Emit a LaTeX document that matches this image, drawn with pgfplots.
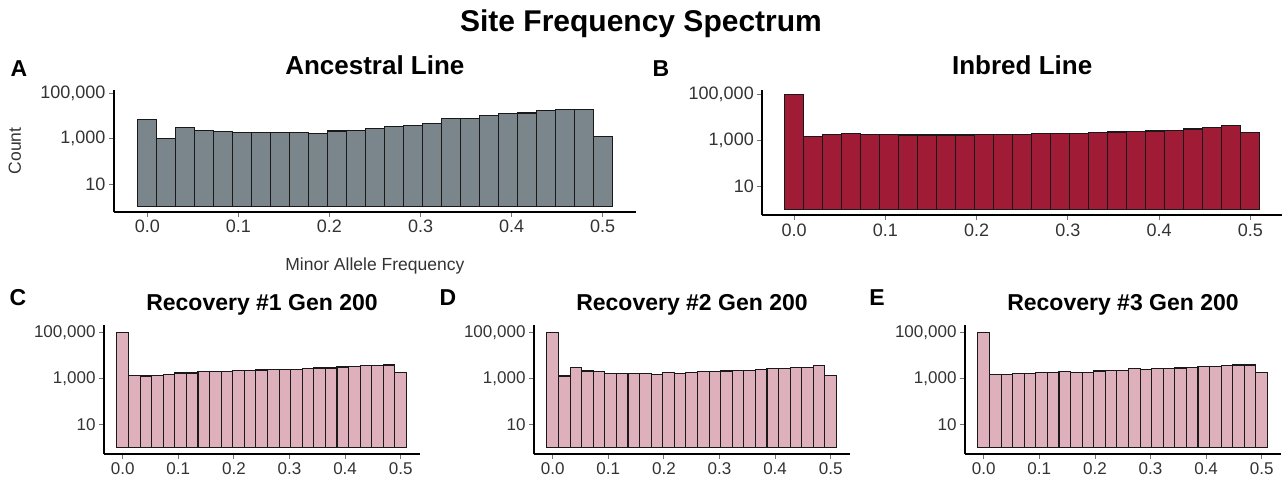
\documentclass[border=0pt]{standalone}
\usepackage{fontspec}
\setmainfont{Liberation Sans}
\usepackage{pgfplots}
\pgfplotsset{compat=1.18}
\usepackage{pgfplotstable}

\definecolor{grayfill}{HTML}{7B868C}
\definecolor{redfill}{HTML}{A01B35}
\definecolor{pinkfill}{HTML}{DDB0BC}
\definecolor{ticktext}{HTML}{333333}

\pgfplotstableread{
x        A      B      C      D      E
0        7079   98000  98000  98000  98000
0.020833 1000   1549   1288   1259   1445
0.041667 3020   1905   1259   2884   1445
0.0625   2344   1995   1288   2089   1549
0.083333 2138   1820   1445   1905   1660
0.104167 1905   1820   1698   1549   1778
0.125    1905   1778   1698   1549   1738
0.145833 1905   1778   1905   1585   1995
0.166667 1905   1778   1995   1549   1820
0.1875   1738   1778   1995   1445   1778
0.208333 2188   1905   2239   1778   2089
0.229167 2344   1905   2239   1585   2138
0.25     2884   1905   2291   1820   2239
0.270833 3311   1995   2399   1950   2570
0.291667 3981   1995   2455   1950   2455
0.3125   4677   2138   2512   2089   2630
0.333333 7586   2239   2570   2138   2692
0.354167 7586   2399   2818   2239   2818
0.375    10233  2455   2818   2455   3020
0.395833 12589  2630   3090   2692   3236
0.416667 13490  2818   3236   2692   3236
0.4375   17378  3236   3548   3020   3548
0.458333 19055  3800   3715   3020   3802
0.479167 18621  4571   3802   3467   3802
0.5      1288   2344   1862   1318   1862
}\sfs

\pgfplotsset{
  /pgfplots/sfsbase/.style={
    /pgfplots/scale only axis,
    /pgfplots/axis x line*=bottom,
    /pgfplots/axis y line*=left,
    /pgfplots/axis line style={line width=1.7pt, black, -},
    /pgfplots/xtick={0,0.1,0.2,0.3,0.4,0.5},
    /pgfplots/xticklabels={0.0,0.1,0.2,0.3,0.4,0.5},
    /pgfplots/ytick={10,1000,100000},
    /pgfplots/yticklabels={10,{1,000},{100,000}},
    /pgfplots/minor tick num=0,
    /pgfplots/tick align=outside,
    /pgfplots/major tick length=5pt,
    /pgfplots/tick style={line width=0.8pt, color=black!55},
    /pgfplots/enlargelimits=false,
    /pgfplots/clip=false,
  },
}

\begin{document}
\begin{tikzpicture}
\path[use as bounding box] (0,0) rectangle (1283pt,-483pt);

\node[font=\bfseries\fontsize{30}{32}\selectfont, anchor=base] at (641pt,-31pt) {Site Frequency Spectrum};

% Panel A
\begin{axis}[sfsbase, ymode=log, ybar, bar width=0.0208333, bar shift=0pt,
  at={(114pt,-211.7pt)}, anchor=south west,
  width=521.7pt, height=121.7pt, xmin=-0.0366, xmax=0.5362, ymin=0.608, ymax=139600,
  tick label style={color=ticktext, font=\fontsize{18}{20}\selectfont},
  title={Ancestral Line},
  title style={font=\bfseries\fontsize{26}{28}\selectfont, at={(axis description cs:0.5,1)}, anchor=base, yshift=10pt},
  xlabel={Minor Allele Frequency},
  xlabel style={font=\fontsize{17.5}{19}\selectfont, color=ticktext, at={(axis description cs:0.5,-0.48)}, anchor=base},
  ylabel={Count},
  ylabel style={font=\fontsize{17.5}{19}\selectfont, color=ticktext, at={(axis description cs:-0.19,0.5)}, anchor=center},
]
\addplot[draw=black!90, line width=1.1pt, fill=grayfill] table[x=x, y=A] {\sfs};
\end{axis}

% Panel B
\begin{axis}[sfsbase, ymode=log, ybar, bar width=0.0208333, bar shift=0pt,
  at={(762.3pt,-215pt)}, anchor=south west,
  width=519.7pt, height=125pt, xmin=-0.035, xmax=0.5348, ymin=0.589, ymax=160000,
  tick label style={color=ticktext, font=\fontsize{18}{20}\selectfont},
  title={Inbred Line},
  title style={font=\bfseries\fontsize{26}{28}\selectfont, at={(axis description cs:0.5,1)}, anchor=base, yshift=10pt},
]
\addplot[draw=black!90, line width=1.1pt, fill=redfill] table[x=x, y=B] {\sfs};
\end{axis}

% Panel C
\begin{axis}[sfsbase, ymode=log, ybar, bar width=0.0208333, bar shift=0pt,
  at={(104pt,-454pt)}, anchor=south west,
  width=316pt, height=129pt, xmin=-0.0336, xmax=0.5347, ymin=0.513, ymax=207500,
  tick label style={color=ticktext, font=\fontsize{17}{19}\selectfont},
  title={Recovery \#1 Gen 200},
  title style={font=\bfseries\fontsize{23}{25}\selectfont, at={(axis description cs:0.5,1)}, anchor=base, yshift=9pt},
]
\addplot[draw=black!90, line width=1.1pt, fill=pinkfill] table[x=x, y=C] {\sfs};
\end{axis}

% Panel D
\begin{axis}[sfsbase, ymode=log, ybar, bar width=0.0208333, bar shift=0pt,
  at={(534pt,-454pt)}, anchor=south west,
  width=316pt, height=129pt, xmin=-0.0336, xmax=0.5347, ymin=0.513, ymax=207500,
  tick label style={color=ticktext, font=\fontsize{17}{19}\selectfont},
  title={Recovery \#2 Gen 200},
  title style={font=\bfseries\fontsize{23}{25}\selectfont, at={(axis description cs:0.5,1)}, anchor=base, yshift=9pt},
]
\addplot[draw=black!90, line width=1.1pt, fill=pinkfill] table[x=x, y=D] {\sfs};
\end{axis}

% Panel E
\begin{axis}[sfsbase, ymode=log, ybar, bar width=0.0208333, bar shift=0pt,
  at={(965pt,-454pt)}, anchor=south west,
  width=316pt, height=129pt, xmin=-0.0336, xmax=0.5347, ymin=0.513, ymax=207500,
  tick label style={color=ticktext, font=\fontsize{17}{19}\selectfont},
  title={Recovery \#3 Gen 200},
  title style={font=\bfseries\fontsize{23}{25}\selectfont, at={(axis description cs:0.5,1)}, anchor=base, yshift=9pt},
]
\addplot[draw=black!90, line width=1.1pt, fill=pinkfill] table[x=x, y=E] {\sfs};
\end{axis}

\node[font=\bfseries\fontsize{23}{25}\selectfont, anchor=base] at (19pt,-76pt) {A};
\node[font=\bfseries\fontsize{23}{25}\selectfont, anchor=base] at (661pt,-76pt) {B};
\node[font=\bfseries\fontsize{23}{25}\selectfont, anchor=base] at (18pt,-305pt) {C};
\node[font=\bfseries\fontsize{23}{25}\selectfont, anchor=base] at (448pt,-305pt) {D};
\node[font=\bfseries\fontsize{23}{25}\selectfont, anchor=base] at (877pt,-305pt) {E};
\end{tikzpicture}
\end{document}
